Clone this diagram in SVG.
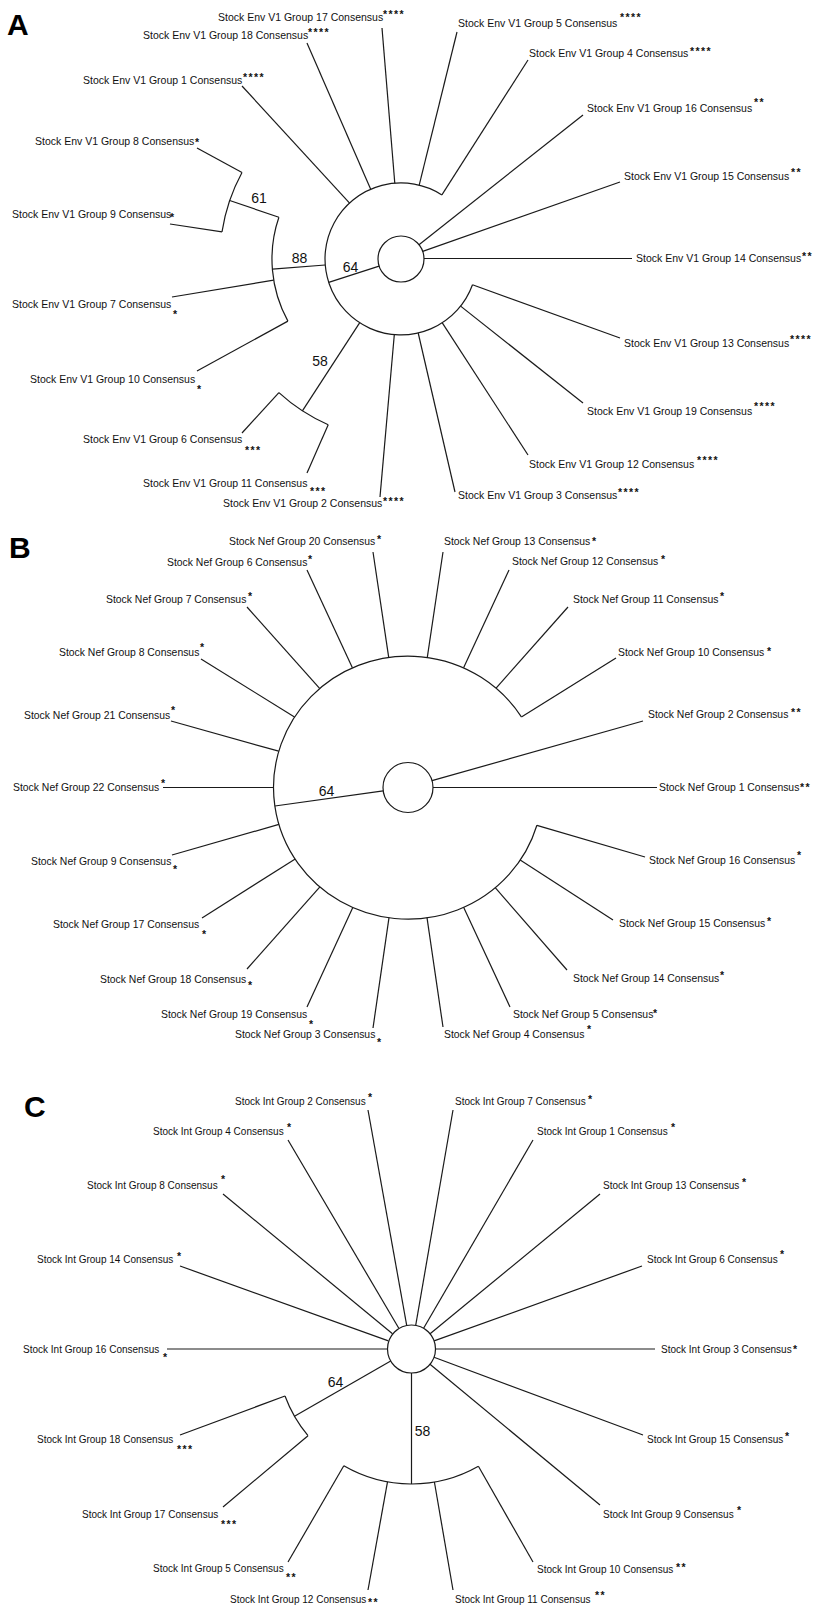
<svg xmlns="http://www.w3.org/2000/svg" width="817" height="1608" viewBox="0 0 817 1608">
<style>
.bg{fill:#fff}
.ln{stroke:#1a1a1a;stroke-width:1.2;fill:none}
.la{font-family:"Liberation Sans",Arial,sans-serif;font-size:10.5px;fill:#111}
.lb{font-family:"Liberation Sans",Arial,sans-serif;font-size:10.4px;fill:#111}
.lc{font-family:"Liberation Sans",Arial,sans-serif;font-size:10px;fill:#111}
.st{font-family:"Liberation Sans",Arial,sans-serif;font-size:10.5px;font-weight:bold;letter-spacing:1.4px;fill:#111}
.bs{font-family:"Liberation Sans",Arial,sans-serif;font-size:14px;fill:#111;text-anchor:middle}
.pl{font-family:"Liberation Sans",Arial,sans-serif;font-size:30px;font-weight:bold;fill:#000}
</style>
<rect class="bg" x="0" y="0" width="817" height="1608"/>
<g id="panel-labels">
<text class="pl" x="7" y="35">A</text>
<text class="pl" x="9" y="558">B</text>
<text class="pl" x="24" y="1117">C</text>
</g>
<g id="connectors">
<!-- Panel A -->
<circle class="ln" cx="401" cy="259" r="23"/>
<path class="ln" d="M472.5,284.8 A76,76 0 1 1 441.9,194.9"/>
<path class="ln" d="M278.9,217.3 A129,129 0 0 0 287.9,321.1"/>
<path class="ln" d="M242,172.5 A181,181 0 0 0 222,231.9"/>
<path class="ln" d="M278.9,392.6 A181,181 0 0 0 328.2,424.7"/>
<line class="ln" x1="328.7" y1="282.4" x2="379.1" y2="266.1"/>
<line class="ln" x1="325.2" y1="265" x2="272.4" y2="269.1"/>
<line class="ln" x1="278.9" y1="217.3" x2="229.7" y2="200.5"/>
<line class="ln" x1="359.6" y1="322.8" x2="302.4" y2="410.8"/>
<line class="ln" x1="394.8" y1="183.3" x2="382" y2="28"/>
<line class="ln" x1="370.7" y1="189.3" x2="307" y2="43"/>
<line class="ln" x1="349.6" y1="203.1" x2="242" y2="86"/>
<line class="ln" x1="419.2" y1="185.2" x2="457" y2="32"/>
<line class="ln" x1="441.9" y1="194.9" x2="528" y2="60"/>
<line class="ln" x1="419" y1="244.7" x2="583" y2="115"/>
<line class="ln" x1="422.7" y1="251.4" x2="620" y2="182"/>
<line class="ln" x1="424" y1="258.5" x2="632" y2="258.5"/>
<line class="ln" x1="472.5" y1="284.8" x2="620" y2="338"/>
<line class="ln" x1="460.6" y1="306.1" x2="583" y2="403"/>
<line class="ln" x1="442.3" y1="322.8" x2="528" y2="455"/>
<line class="ln" x1="418.2" y1="333" x2="455" y2="492"/>
<line class="ln" x1="394.3" y1="334.7" x2="380" y2="497"/>
<line class="ln" x1="242" y1="172.5" x2="197" y2="148"/>
<line class="ln" x1="222" y1="231.9" x2="170" y2="224"/>
<line class="ln" x1="273.7" y1="280.1" x2="172" y2="297"/>
<line class="ln" x1="287.9" y1="321.1" x2="197" y2="371"/>
<line class="ln" x1="278.9" y1="392.6" x2="242" y2="433"/>
<line class="ln" x1="328.2" y1="424.7" x2="307" y2="473"/>
<!-- Panel B -->
<circle class="ln" cx="408" cy="787.5" r="25"/>
<path class="ln" d="M536.9,825.3 A134.5,131.5 0 1 1 521.4,716.9"/>
<line class="ln" x1="274.9" y1="806" x2="383.2" y2="790.9"/>
<line class="ln" x1="432" y1="780.7" x2="643" y2="721"/>
<line class="ln" x1="433" y1="787.5" x2="657" y2="787.5"/>
<line class="ln" x1="388.7" y1="657.4" x2="373" y2="552"/>
<line class="ln" x1="352.4" y1="667.8" x2="307" y2="570"/>
<line class="ln" x1="319.6" y1="688.4" x2="247" y2="607"/>
<line class="ln" x1="294.5" y1="717" x2="201" y2="659"/>
<line class="ln" x1="278.7" y1="751.2" x2="171" y2="721"/>
<line class="ln" x1="273.5" y1="787.5" x2="163" y2="787.5"/>
<line class="ln" x1="278.9" y1="824.4" x2="172" y2="855"/>
<line class="ln" x1="295.2" y1="859" x2="202" y2="918"/>
<line class="ln" x1="319.9" y1="886.8" x2="247" y2="969"/>
<line class="ln" x1="352.8" y1="907.4" x2="307" y2="1007"/>
<line class="ln" x1="389" y1="917.7" x2="373" y2="1028"/>
<line class="ln" x1="427" y1="917.7" x2="443" y2="1027"/>
<line class="ln" x1="463.6" y1="907.2" x2="510" y2="1007"/>
<line class="ln" x1="495.2" y1="887.6" x2="567" y2="970"/>
<line class="ln" x1="520.2" y1="860" x2="613" y2="920"/>
<line class="ln" x1="536.9" y1="825.3" x2="645" y2="857"/>
<line class="ln" x1="521.4" y1="716.9" x2="616" y2="658"/>
<line class="ln" x1="496.1" y1="688.1" x2="568" y2="607"/>
<line class="ln" x1="463.6" y1="667.8" x2="509" y2="570"/>
<line class="ln" x1="427.3" y1="657.4" x2="443" y2="552"/>
<!-- Panel C -->
<circle class="ln" cx="411.5" cy="1349" r="24"/>
<line class="ln" x1="411.5" y1="1373" x2="411.5" y2="1484"/>
<path class="ln" d="M343.8,1465.8 A135,135 0 0 0 478.4,1466.3"/>
<line class="ln" x1="390.7" y1="1361" x2="294.5" y2="1416.3"/>
<path class="ln" d="M285,1396 A135,135 0 0 0 308,1435.7"/>
<line class="ln" x1="406.7" y1="1325.4" x2="368" y2="1110"/>
<line class="ln" x1="398.8" y1="1328.3" x2="288" y2="1140"/>
<line class="ln" x1="392.5" y1="1333.7" x2="223" y2="1194"/>
<line class="ln" x1="388.4" y1="1340.9" x2="180" y2="1266"/>
<line class="ln" x1="387.5" y1="1349" x2="167" y2="1349"/>
<line class="ln" x1="415.7" y1="1325.4" x2="453" y2="1110"/>
<line class="ln" x1="423.6" y1="1328.3" x2="533" y2="1140"/>
<line class="ln" x1="430.1" y1="1333.8" x2="600" y2="1194"/>
<line class="ln" x1="434.1" y1="1340.9" x2="642" y2="1266"/>
<line class="ln" x1="435.5" y1="1349" x2="655" y2="1349"/>
<line class="ln" x1="434" y1="1357.3" x2="643" y2="1435"/>
<line class="ln" x1="430" y1="1364.3" x2="600" y2="1505"/>
<line class="ln" x1="285" y1="1396" x2="180" y2="1435"/>
<line class="ln" x1="308" y1="1435.7" x2="223" y2="1507"/>
<line class="ln" x1="343.8" y1="1465.8" x2="288" y2="1562"/>
<line class="ln" x1="387.5" y1="1481.9" x2="368" y2="1590"/>
<line class="ln" x1="434.4" y1="1482" x2="453" y2="1590"/>
<line class="ln" x1="478.4" y1="1466.3" x2="533" y2="1562"/>
</g>
<g id="bootstrap">
<text class="bs" x="259" y="203">61</text>
<text class="bs" x="299.5" y="263">88</text>
<text class="bs" x="350.5" y="272">64</text>
<text class="bs" x="320" y="366">58</text>
<text class="bs" x="326.5" y="796">64</text>
<text class="bs" x="335.5" y="1387">64</text>
<text class="bs" x="422.5" y="1436">58</text>
</g>
<!-- Panel A nodes -->
<g id="A-G17"><text class="la" x="218" y="21">Stock Env V1 Group 17 Consensus</text><text class="st" x="383" y="17.8">****</text></g>
<g id="A-G18"><text class="la" x="143" y="39">Stock Env V1 Group 18 Consensus</text><text class="st" x="308" y="35.8">****</text></g>
<g id="A-G1"><text class="la" x="83" y="84">Stock Env V1 Group 1 Consensus</text><text class="st" x="243" y="80.8">****</text></g>
<g id="A-G8"><text class="la" x="35" y="145">Stock Env V1 Group 8 Consensus</text><text class="st" x="195" y="145.8">*</text></g>
<g id="A-G9"><text class="la" x="12" y="218">Stock Env V1 Group 9 Consensus</text><text class="st" x="170" y="220.8">*</text></g>
<g id="A-G7"><text class="la" x="12" y="308">Stock Env V1 Group 7 Consensus</text><text class="st" x="173" y="317.8">*</text></g>
<g id="A-G10"><text class="la" x="30" y="383">Stock Env V1 Group 10 Consensus</text><text class="st" x="197" y="392.8">*</text></g>
<g id="A-G6"><text class="la" x="83" y="443">Stock Env V1 Group 6 Consensus</text><text class="st" x="245" y="453.8">***</text></g>
<g id="A-G11"><text class="la" x="143" y="487">Stock Env V1 Group 11 Consensus</text><text class="st" x="310" y="494.8">***</text></g>
<g id="A-G2"><text class="la" x="223" y="507">Stock Env V1 Group 2 Consensus</text><text class="st" x="383" y="504.8">****</text></g>
<g id="A-G5"><text class="la" x="458" y="27">Stock Env V1 Group 5 Consensus</text><text class="st" x="620" y="20.8">****</text></g>
<g id="A-G4"><text class="la" x="529" y="57">Stock Env V1 Group 4 Consensus</text><text class="st" x="690" y="54.8">****</text></g>
<g id="A-G16"><text class="la" x="587" y="112">Stock Env V1 Group 16 Consensus</text><text class="st" x="754" y="105.8">**</text></g>
<g id="A-G15"><text class="la" x="624" y="180">Stock Env V1 Group 15 Consensus</text><text class="st" x="791" y="175.8">**</text></g>
<g id="A-G14"><text class="la" x="636" y="262">Stock Env V1 Group 14 Consensus</text><text class="st" x="802" y="259.8">**</text></g>
<g id="A-G13"><text class="la" x="624" y="347">Stock Env V1 Group 13 Consensus</text><text class="st" x="790" y="342.8">****</text></g>
<g id="A-G19"><text class="la" x="587" y="415">Stock Env V1 Group 19 Consensus</text><text class="st" x="754" y="409.8">****</text></g>
<g id="A-G12"><text class="la" x="529" y="468">Stock Env V1 Group 12 Consensus</text><text class="st" x="697" y="463.8">****</text></g>
<g id="A-G3"><text class="la" x="458" y="499">Stock Env V1 Group 3 Consensus</text><text class="st" x="618" y="495.8">****</text></g>
<!-- Panel B nodes -->
<g id="B-G20"><text class="lb" x="229" y="545">Stock Nef Group 20 Consensus</text><text class="st" x="377" y="542.8">*</text></g>
<g id="B-G6"><text class="lb" x="167" y="566">Stock Nef Group 6 Consensus</text><text class="st" x="308" y="562.8">*</text></g>
<g id="B-G7"><text class="lb" x="106" y="603">Stock Nef Group 7 Consensus</text><text class="st" x="248" y="599.8">*</text></g>
<g id="B-G8"><text class="lb" x="59" y="656">Stock Nef Group 8 Consensus</text><text class="st" x="200" y="650.8">*</text></g>
<g id="B-G21"><text class="lb" x="24" y="719">Stock Nef Group 21 Consensus</text><text class="st" x="171" y="713.8">*</text></g>
<g id="B-G22"><text class="lb" x="13" y="791">Stock Nef Group 22 Consensus</text><text class="st" x="161" y="786.8">*</text></g>
<g id="B-G9"><text class="lb" x="31" y="865">Stock Nef Group 9 Consensus</text><text class="st" x="173" y="872.8">*</text></g>
<g id="B-G17"><text class="lb" x="53" y="928">Stock Nef Group 17 Consensus</text><text class="st" x="202" y="937.8">*</text></g>
<g id="B-G18"><text class="lb" x="100" y="983">Stock Nef Group 18 Consensus</text><text class="st" x="248" y="988.8">*</text></g>
<g id="B-G19"><text class="lb" x="161" y="1018">Stock Nef Group 19 Consensus</text><text class="st" x="309" y="1027.8">*</text></g>
<g id="B-G3"><text class="lb" x="235" y="1038">Stock Nef Group 3 Consensus</text><text class="st" x="377" y="1045.8">*</text></g>
<g id="B-G13"><text class="lb" x="444" y="545">Stock Nef Group 13 Consensus</text><text class="st" x="592" y="544.8">*</text></g>
<g id="B-G12"><text class="lb" x="512" y="565">Stock Nef Group 12 Consensus</text><text class="st" x="661" y="562.8">*</text></g>
<g id="B-G11"><text class="lb" x="573" y="603">Stock Nef Group 11 Consensus</text><text class="st" x="720" y="599.8">*</text></g>
<g id="B-G10"><text class="lb" x="618" y="656">Stock Nef Group 10 Consensus</text><text class="st" x="767" y="654.8">*</text></g>
<g id="B-G2"><text class="lb" x="648" y="718">Stock Nef Group 2 Consensus</text><text class="st" x="791" y="715.8">**</text></g>
<g id="B-G1"><text class="lb" x="659" y="791">Stock Nef Group 1 Consensus</text><text class="st" x="800" y="790.8">**</text></g>
<g id="B-G16"><text class="lb" x="649" y="864">Stock Nef Group 16 Consensus</text><text class="st" x="797" y="858.8">*</text></g>
<g id="B-G15"><text class="lb" x="619" y="927">Stock Nef Group 15 Consensus</text><text class="st" x="767" y="924.8">*</text></g>
<g id="B-G14"><text class="lb" x="573" y="982">Stock Nef Group 14 Consensus</text><text class="st" x="720" y="978.8">*</text></g>
<g id="B-G5"><text class="lb" x="513" y="1018">Stock Nef Group 5 Consensus</text><text class="st" x="653" y="1016.8">*</text></g>
<g id="B-G4"><text class="lb" x="444" y="1038">Stock Nef Group 4 Consensus</text><text class="st" x="587" y="1032.8">*</text></g>
<!-- Panel C nodes -->
<g id="C-G2"><text class="lc" x="235" y="1105">Stock Int Group 2 Consensus</text><text class="st" x="368" y="1100.8">*</text></g>
<g id="C-G4"><text class="lc" x="153" y="1135">Stock Int Group 4 Consensus</text><text class="st" x="287" y="1130.8">*</text></g>
<g id="C-G8"><text class="lc" x="87" y="1189">Stock Int Group 8 Consensus</text><text class="st" x="221" y="1182.8">*</text></g>
<g id="C-G14"><text class="lc" x="37" y="1263">Stock Int Group 14 Consensus</text><text class="st" x="177" y="1259.8">*</text></g>
<g id="C-G16"><text class="lc" x="23" y="1353">Stock Int Group 16 Consensus</text><text class="st" x="163" y="1360.8">*</text></g>
<g id="C-G18"><text class="lc" x="37" y="1443">Stock Int Group 18 Consensus</text><text class="st" x="177" y="1452.8">***</text></g>
<g id="C-G17"><text class="lc" x="82" y="1518">Stock Int Group 17 Consensus</text><text class="st" x="221" y="1527.8">***</text></g>
<g id="C-G5"><text class="lc" x="153" y="1572">Stock Int Group 5 Consensus</text><text class="st" x="286" y="1580.8">**</text></g>
<g id="C-G12"><text class="lc" x="230" y="1603">Stock Int Group 12 Consensus</text><text class="st" x="368" y="1605.5">**</text></g>
<g id="C-G7"><text class="lc" x="455" y="1105">Stock Int Group 7 Consensus</text><text class="st" x="588" y="1102.8">*</text></g>
<g id="C-G1"><text class="lc" x="537" y="1135">Stock Int Group 1 Consensus</text><text class="st" x="671" y="1130.8">*</text></g>
<g id="C-G13"><text class="lc" x="603" y="1189">Stock Int Group 13 Consensus</text><text class="st" x="742" y="1185.8">*</text></g>
<g id="C-G6"><text class="lc" x="647" y="1263">Stock Int Group 6 Consensus</text><text class="st" x="780" y="1257.8">*</text></g>
<g id="C-G3"><text class="lc" x="661" y="1353">Stock Int Group 3 Consensus</text><text class="st" x="793" y="1352.8">*</text></g>
<g id="C-G15"><text class="lc" x="647" y="1443">Stock Int Group 15 Consensus</text><text class="st" x="785" y="1439.8">*</text></g>
<g id="C-G9"><text class="lc" x="603" y="1518">Stock Int Group 9 Consensus</text><text class="st" x="737" y="1513.8">*</text></g>
<g id="C-G10"><text class="lc" x="537" y="1573">Stock Int Group 10 Consensus</text><text class="st" x="676" y="1570.8">**</text></g>
<g id="C-G11"><text class="lc" x="455" y="1603">Stock Int Group 11 Consensus</text><text class="st" x="595" y="1598.8">**</text></g>
</svg>
